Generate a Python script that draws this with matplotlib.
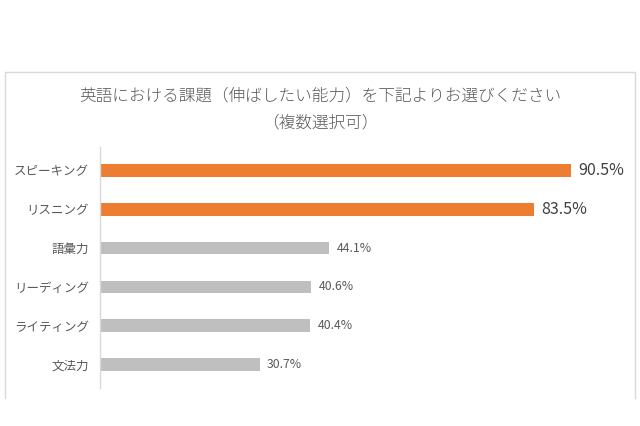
import matplotlib
matplotlib.use("Agg")
import matplotlib.pyplot as plt
from matplotlib.lines import Line2D

plt.rcParams['font.family'] = ['Noto Sans CJK JP', 'DejaVu Sans']

categories = ["スピーキング", "リスニング", "語彙力", "リーディング", "ライティング", "文法力"]
values = [90.5, 83.5, 44.1, 40.6, 40.4, 30.7]
highlight = [True, True, False, False, False, False]
title_line1 = "英語における課題（伸ばしたい能力）を下記よりお選びください"
title_line2 = "（複数選択可）"

ORANGE = "#ED7D31"
GRAY = "#BFBFBF"
TEXT = "#595959"

fig = plt.figure(figsize=(6.4, 4.26), dpi=100)
fig.patch.set_facecolor("white")

# outer frame (left, top, right)
fig.add_artist(Line2D([5/640, 5/640, 635/640, 635/640],
                      [1-398/426, 1-72/426, 1-72/426, 1-398/426],
                      transform=fig.transFigure, color="#D9D9D9", lw=1.0))

fig.text(0.5, 1-96/426, title_line1, ha="center", va="center", fontsize=12,
         color=TEXT, fontweight="light")
fig.text(0.5, 1-123/426, title_line2, ha="center", va="center", fontsize=12,
         color=TEXT, fontweight="light")

ax = fig.add_axes([100/640, 38/426, 520/640, (388-147)/426])
ypos = list(range(len(categories)))
colors = [ORANGE if h else GRAY for h in highlight]
ax.barh(ypos, values, height=0.33, color=colors)
ax.set_xlim(0, 100)
ax.set_ylim(len(categories) - 0.4, -0.6)
ax.set_yticks(ypos)
ax.set_yticklabels(categories, fontsize=9, color=TEXT)
ax.tick_params(axis="y", length=0, pad=8)
ax.set_xticks([])
for s in ["top", "right", "bottom"]:
    ax.spines[s].set_visible(False)
ax.spines["left"].set_color("#D9D9D9")
ax.spines["left"].set_linewidth(1.0)

for y, v, h in zip(ypos, values, highlight):
    if h:
        ax.text(v + 1.4, y, f"{v:.1f}%", va="center", ha="left", fontsize=11.5,
                color="#404040")
    else:
        ax.text(v + 1.4, y, f"{v:.1f}%", va="center", ha="left", fontsize=8.8,
                color=TEXT)

fig.savefig("out.png", dpi=100)
